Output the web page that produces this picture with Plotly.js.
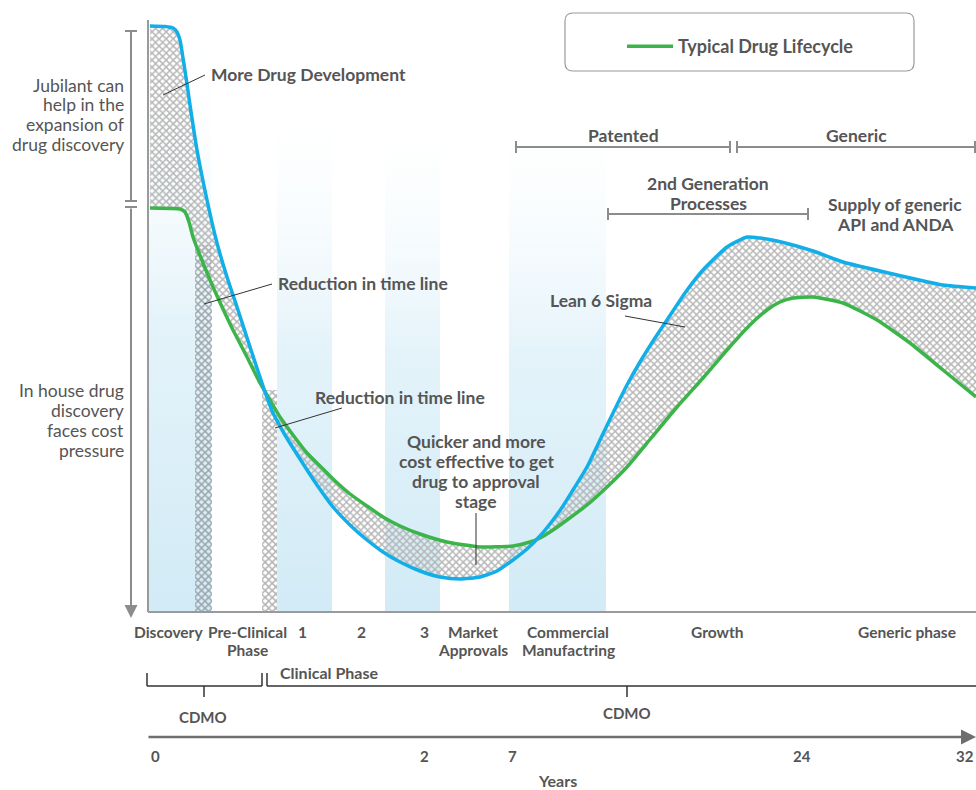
<!DOCTYPE html>
<html>
<head>
<meta charset="utf-8">
<script src="https://cdn.plot.ly/plotly-3.0.1.min.js"></script>
<style>html,body{margin:0;padding:0;background:#fff;}#chart{width:976px;height:790px;}</style>
</head>
<body>
<div id="chart"></div>
<script>
// ---------- DATA (chart units: x = progress along lifecycle, y = cost / activity level) ----------
const typicalX = [2,22,32,37,41,45,55,65,75,85,99,112,122,132,145,159,172,185,202,219,235,252,272,299,332,365,382,392,405,419,439,459,479,504,529,555,579,599,619,632,645,665,695,729,762,795,828];
const typicalY = [404,403.5,403,400,390,375,349,325,303,282,255,229,212,195,177,159,146,133,118,106,95,86,78,70,65,66,70,74,82,92,107,125,145,175,205,234,262,284,302,310,314,315,309,292,269,242,215];

const jubilantX = [2,17,25,29,32,35,39,42,49,59,69,79,89,102,117,125,137,152,169,185,202,219,235,252,272,292,312,332,349,365,379,392,405,415,425,439,452,465,479,492,507,519,537,555,579,599,612,629,665,695,745,795,828];
const jubilantY = [586,585.5,584,580,572,554,528,507,462,412,369,335,305,265,220,199,177,153,127,105,87,72,60,50,41,35,33,35,41,52,63,76,92,106,122,145,172,199,227,250,274,292,319,342,365,375,374,371,361,350,338,327,324];

// stage bands (start, end, top) highlighted in blue
const bandStart = [0,129,237,361];
const bandEnd   = [63,184,292,458];
const bandTop   = [582,532,522,520];

// time-line reduction strips
const stripStart = [47,114];
const stripEnd   = [64,129];
const stripTop   = [367,222];

const stageLabels = [["Discovery"],["Pre-Clinical","Phase"],["1"],["2"],["3"],["Market","Approvals"],["Commercial","Manufactring"],["Growth"],["Generic phase"]];
const yearLabels = ["0","2","7","24","32"];
const legendName = "Typical Drug Lifecycle";

// ---------- LAYOUT ----------
const FONT = "Lato, 'Open Sans', sans-serif";
const TXT = "#555555";
const stageLabelX = [20,99,154,213,276,325,420,569,759];
const yearLabelX = [7,276,364,654,817];

const traces = [];
for (let i = 0; i < bandStart.length; i++) {
  traces.push({
    x: [bandStart[i], bandEnd[i], bandEnd[i], bandStart[i], bandStart[i]],
    y: [0, 0, bandTop[i], bandTop[i], 0],
    mode: 'lines', line: {width: 0}, fill: 'toself',
    fillgradient: {type: 'vertical', start: 0, stop: bandTop[i],
      colorscale: [[0, 'rgba(210,235,246,1)'], [0.5,'rgba(228,243,250,1)'], [1, 'rgba(255,255,255,0)']]},
    hoverinfo: 'skip', showlegend: false
  });
}
for (let i = 0; i < stripStart.length; i++) {
  traces.push({
    x: [stripStart[i], stripEnd[i], stripEnd[i], stripStart[i], stripStart[i]],
    y: [0, 0, stripTop[i], stripTop[i], 0],
    mode: 'lines', line: {width: 0}, fill: 'toself', fillcolor: 'rgba(0,0,0,0)',
    fillpattern: {shape: 'x', fgcolor: i === 0 ? 'rgba(150,158,162,0.9)' : 'rgba(175,175,175,0.95)', bgcolor: 'rgba(255,255,255,0)', size: 5, solidity: 0.5},
    hoverinfo: 'skip', showlegend: false
  });
}
traces.push({
  x: typicalX, y: typicalY, mode: 'lines', name: legendName,
  line: {color: '#3bb54a', width: 3.5, shape: 'spline', smoothing: 0.5},
  hoverinfo: 'skip', showlegend: true
});
traces.push({
  x: jubilantX, y: jubilantY, mode: 'lines', name: 'Jubilant',
  line: {color: '#12aee8', width: 3.5, shape: 'spline', smoothing: 0.5},
  fill: 'tonexty', fillcolor: 'rgba(0,0,0,0)',
  fillpattern: {shape: 'x', fgcolor: 'rgba(180,180,180,0.95)', bgcolor: 'rgba(255,255,255,0)', size: 5, solidity: 0.5},
  hoverinfo: 'skip', showlegend: false
});

const shapes = [];
const ln = (x0,y0,x1,y1,color,width) => shapes.push({type:'line', xref:'x', yref:'y', x0, y0, x1, y1, line:{color, width}});
ln(0, 592, 0, 0, '#9a9a9a', 2);
ln(0, 0, 828, 0, '#9a9a9a', 2);
ln(-17, 581, -17, 411, '#8c8c8c', 2);
ln(-23, 581, -11, 581, '#8c8c8c', 2);
ln(-23, 411, -11, 411, '#8c8c8c', 2);
ln(-23, 405, -11, 405, '#8c8c8c', 2);
ln(368, 465, 582, 465, '#8c8c8c', 2); ln(368, 471, 368, 459, '#8c8c8c', 2); ln(582, 471, 582, 459, '#8c8c8c', 2);
ln(589, 465, 827, 465, '#8c8c8c', 2); ln(589, 471, 589, 459, '#8c8c8c', 2); ln(827, 471, 827, 459, '#8c8c8c', 2);
ln(460, 398, 660, 398, '#8c8c8c', 2); ln(460, 404, 460, 392, '#8c8c8c', 2); ln(660, 404, 660, 392, '#8c8c8c', 2);
ln(-1, -74, 114, -74, '#333', 1.5); ln(-1, -61, -1, -74, '#333', 1.5); ln(114, -61, 114, -74, '#333', 1.5);
ln(119, -74, 828, -74, '#333', 1.5); ln(119, -61, 119, -74, '#333', 1.5);
ln(56, -74, 56, -85, '#333', 1.5); ln(479, -74, 479, -85, '#333', 1.5);
// leader lines
ln(57, 537, 15, 517, '#333', 1);
ln(124, 328, 56, 308, '#333', 1);
ln(194, 204, 127, 184, '#333', 1);
ln(328, 99, 328, 47, '#333', 1);
ln(477, 296, 537, 285, '#333', 1);
// legend box (rounded)
shapes.push({type:'path', xref:'x', yref:'y',
  path:'M 425,599 L 758,599 Q 766,599 766,591 L 766,549 Q 766,541 758,541 L 425,541 Q 417,541 417,549 L 417,591 Q 417,599 425,599 Z',
  line:{color:'#9a9a9a', width:1.2}, fillcolor:'rgba(0,0,0,0)'});

const ann = [];
const BOLD = (size) => ({family:FONT, size, color:TXT, weight:700});
const LIGHT = (size) => ({family:FONT, size, color:TXT, weight:400});
const txt = (x, y, text, opts={}) => ann.push(Object.assign({x, y, xref:'x', yref:'y', text, showarrow:false,
  xanchor:'center', yanchor:'middle', font:BOLD(17.5)}, opts));
const multi = (x, y0, step, lines, opts={}) => lines.forEach((t, k) => txt(x, y0 - k*step, t, opts));

txt(160, 538, 'More Drug Development');
txt(215, 329, 'Reduction in time line');
txt(252, 215, 'Reduction in time line');
multi(328, 171, 20.3, ['Quicker and more','cost effective to get','drug to approval','stage']);
txt(453, 312, 'Lean 6 Sigma');
txt(475, 477, 'Patented');
txt(708, 477, 'Generic');
multi(560, 429, 20, ['2nd Generation','Processes']);
multi(747, 408, 20, ['Supply of generic','API and ANDA']);
multi(-22, 527, 19.7, ['Jubilant can','help in the','expansion of','drug discovery'], {xanchor:'right', font:LIGHT(17.5)});
multi(-22, 222, 20, ['In house drug','discovery','faces cost','pressure'], {xanchor:'right', font:LIGHT(17.5)});
for (let i = 0; i < stageLabels.length; i++) {
  multi(stageLabelX[i], -20, 18, stageLabels[i], {font:BOLD(15.5)});
}
txt(130, -60, 'Clinical Phase', {xanchor:'left', font:BOLD(16)});
txt(55, -105, 'CDMO', {font:BOLD(15)});
txt(479, -101, 'CDMO', {font:BOLD(15)});
for (let i = 0; i < yearLabels.length; i++) {
  txt(yearLabelX[i], -144, yearLabels[i], {font:BOLD(15)});
}
txt(409, -168, 'Years', {font:BOLD(16)});
ann.push({x:-17, y:-6, ax:-17, ay:405, xref:'x', yref:'y', axref:'x', ayref:'y', text:'', showarrow:true,
  arrowhead:2, arrowsize:1.3, arrowwidth:2, arrowcolor:'#8c8c8c'});
ann.push({x:828, y:-125, ax:-1, ay:-125, xref:'x', yref:'y', axref:'x', ayref:'y', text:'', showarrow:true,
  arrowhead:2, arrowsize:1.2, arrowwidth:2.5, arrowcolor:'#6e6e6e'});

const layout = {
  width: 976, height: 790,
  margin: {l:0, r:0, t:0, b:0, pad:0},
  paper_bgcolor: '#ffffff', plot_bgcolor: '#ffffff',
  xaxis: {range: [-148, 828], visible: false, fixedrange: true},
  yaxis: {range: [-178, 612], visible: false, fixedrange: true},
  showlegend: true,
  legend: {x: 622/976, y: 1 - 28/790, xanchor: 'left', yanchor: 'top', bgcolor: 'rgba(0,0,0,0)', borderwidth: 0,
    itemwidth: 46, font: BOLD(18)},
  shapes, annotations: ann
};
Plotly.newPlot('chart', traces, layout, {displayModeBar: false, staticPlot: true});
</script>
</body>
</html>
